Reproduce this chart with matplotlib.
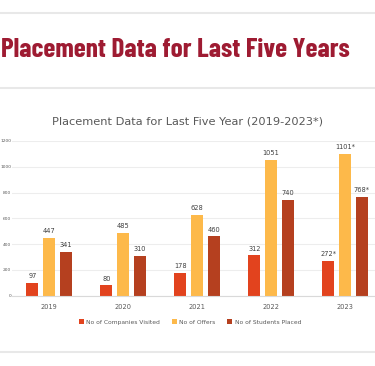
import matplotlib as mpl
mpl.use('Agg')
import matplotlib.pyplot as plt
import numpy as np
import logging
logging.getLogger('matplotlib.font_manager').setLevel(logging.ERROR)

years = ['2019', '2020', '2021', '2022', '2023']
companies = [97, 80, 178, 312, 272]
offers = [447, 485, 628, 1051, 1101]
placed = [341, 310, 460, 740, 768]
companies_txt = ['97', '80', '178', '312', '272*']
offers_txt = ['447', '485', '628', '1051', '1101*']
placed_txt = ['341', '310', '460', '740', '768*']
series_names = ['No of Companies Visited', 'No of Offers', 'No of Students Placed']
yticks = [0, 200, 400, 600, 800, 1000, 1200]

colors = ['#E2431E', '#FDB94A', '#B5401F']

W, H = 375, 366
fig = plt.figure(figsize=(W / 100, H / 100), dpi=100)
fig.patch.set_facecolor('white')

# slide separator lines
for yy in (13, 88, 352):
    fig.add_artist(plt.Line2D([0, 1], [1 - yy / H, 1 - yy / H], color='#E8E8E8', lw=1.5))

# slide heading, condensed bold face
head = fig.text(1 / W, 1 - 50 / H, 'Placement Data for Last Five Years', color='#9E1B32',
                fontsize=20, fontweight='bold',
                family=['Barlow Condensed', 'Roboto Condensed', 'Oswald', 'Archivo Narrow', 'DejaVu Sans'],
                va='center', ha='left')
r = fig.canvas.get_renderer()
w = head.get_window_extent(r).width
head.set_fontsize(20 * 348 / w)

ax = fig.add_axes([12 / W, 70.3 / H, 370 / W, 154.7 / H])
x = np.arange(len(years))
bw = 0.165
off = 0.225
r1 = ax.bar(x - off, companies, bw, color=colors[0], label=series_names[0])
r2 = ax.bar(x, offers, bw, color=colors[1], label=series_names[1])
r3 = ax.bar(x + off, placed, bw, color=colors[2], label=series_names[2])

for rects, txts in ((r1, companies_txt), (r2, offers_txt), (r3, placed_txt)):
    for rect, t in zip(rects, txts):
        ax.text(rect.get_x() + rect.get_width() / 2, rect.get_height() + 30, t,
                ha='center', va='bottom', fontsize=4.8, color='#404040')

ax.set_xlim(-0.5, 4.5)
ax.set_ylim(0, 1200)
ax.set_yticks(yticks)
ax.set_yticklabels([str(v) for v in yticks], fontsize=3.2, color='#595959')
ax.set_xticks(x)
ax.set_xticklabels(years, fontsize=4.8, color='#595959')
ax.tick_params(axis='y', length=0, pad=0.5)
ax.tick_params(axis='x', length=0, pad=6)
ax.grid(axis='y', color='#EDEDED', lw=0.8)
ax.set_axisbelow(True)
for s in ('top', 'right', 'left'):
    ax.spines[s].set_visible(False)
ax.spines['bottom'].set_color('#D9D9D9')
ax.spines['bottom'].set_linewidth(0.8)

fig.text(188 / W, 1 - 122 / H, 'Placement Data for Last Five Year (2019-2023*)',
         ha='center', va='center', fontsize=8.2, color='#595959')

fig.legend(loc='center', bbox_to_anchor=(190 / W, 1 - 322 / H), ncol=3, frameon=False,
           fontsize=4.3, handlelength=0.8, handleheight=0.8, handletextpad=0.4,
           columnspacing=2.0, labelcolor='#595959')

plt.savefig('out.png', dpi=100)
